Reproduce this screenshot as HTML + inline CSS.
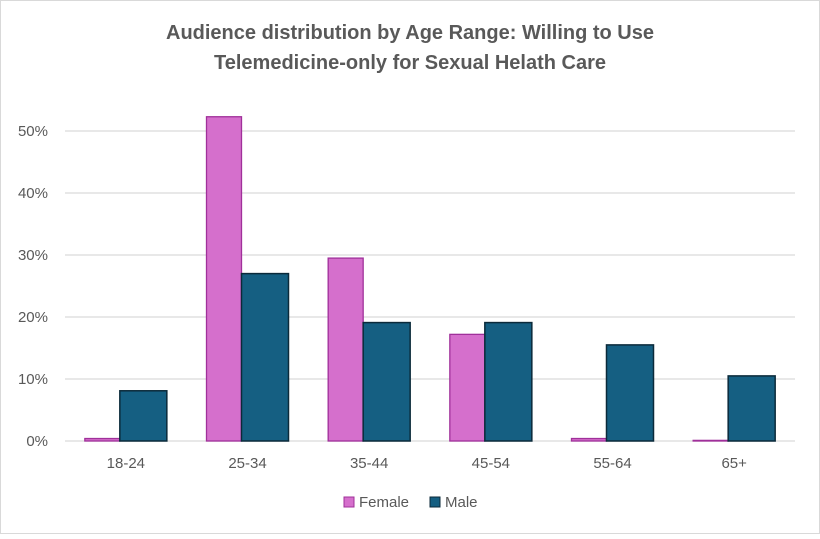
<!DOCTYPE html>
<html><head><meta charset="utf-8"><style>
html,body{margin:0;padding:0;background:#fff}
body{width:820px;height:534px;overflow:hidden;font-family:"Liberation Sans",Arial,sans-serif}
</style></head><body>
<svg id="chart" width="820" height="534" xmlns="http://www.w3.org/2000/svg">
<rect x="0.5" y="0.5" width="819" height="533" fill="#fff" stroke="#d9d9d9"/>
<text x="410" y="39" text-anchor="middle" font-size="20" font-weight="bold" fill="#595959">Audience distribution by Age Range: Willing to Use</text>
<text x="410" y="69" text-anchor="middle" font-size="20" font-weight="bold" fill="#595959">Telemedicine-only for Sexual Helath Care</text>
<g id="grid"></g><g id="bars"></g><g id="labels"></g>
<g>
<rect x="344" y="497" width="10" height="10" fill="#d56fcc" stroke="#a0309a"/>
<text x="359" y="507" font-size="15" fill="#595959">Female</text>
<rect x="430" y="497" width="10" height="10" fill="#155f82" stroke="#0b2a3a"/>
<text x="445" y="507" font-size="15" fill="#595959">Male</text>
</g>
</svg>
<script>
const categories=["18-24","25-34","35-44","45-54","55-64","65+"];
const female=[0.4,52.3,29.5,17.2,0.4,0.1];
const male=[8.1,27.0,19.1,19.1,15.5,10.5];
const yTicks=[0,10,20,30,40,50];
const yTickLabels=["0%","10%","20%","30%","40%","50%"];
const NS="http://www.w3.org/2000/svg";
const x0=65,x1=795,y0=441,pxPer=6.2;
const band=(x1-x0)/categories.length;
const y=v=>y0-v*pxPer;
const xc=i=>x0+band*(i+0.5);
function mk(t,a,p){const e=document.createElementNS(NS,t);for(const k in a)e.setAttribute(k,a[k]);p.appendChild(e);return e;}
const grid=document.getElementById('grid'),bars=document.getElementById('bars'),labels=document.getElementById('labels');
yTicks.forEach((t,i)=>{
 const l=mk('line',{x1:x0,x2:x1,y1:y(t),y2:y(t),stroke:'#d9d9d9','stroke-width':1.3},grid);
 
 
 const tx=mk('text',{x:48,y:y(t)+5,'text-anchor':'end','font-size':15,fill:'#595959'},labels);
 tx.textContent=yTickLabels[i];
 
 
});
const fw=35,mw=47;
categories.forEach((c,i)=>{
 const cx=xc(i);
 const f=mk('rect',{x:cx-6-fw,y:y(female[i]),width:fw,height:female[i]*pxPer,fill:'#d56fcc',stroke:'#a0309a','stroke-width':1.3},bars);
 
 
 const m=mk('rect',{x:cx-6,y:y(male[i]),width:mw,height:male[i]*pxPer,fill:'#155f82',stroke:'#0b2a3a','stroke-width':1.5},bars);
 
 
 const tx=mk('text',{x:cx,y:468,'text-anchor':'middle','font-size':15,fill:'#595959'},labels);
 tx.textContent=c;
 
 
});
</script>
</body></html>
